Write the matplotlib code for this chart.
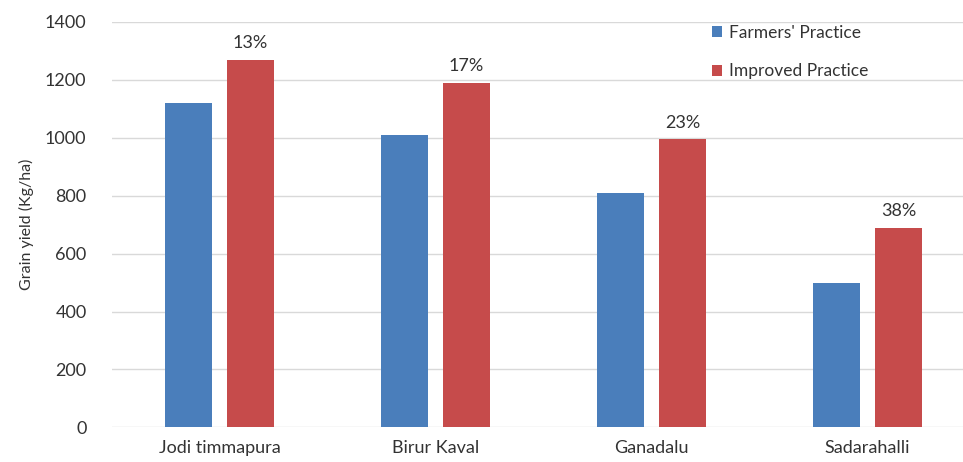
import matplotlib.pyplot as plt
import numpy as np

plt.rcParams['font.family'] = ['Lato', 'DejaVu Sans']

villages = ["Jodi timmapura", "Birur Kaval", "Ganadalu", "Sadarahalli"]
farmers = [1120, 1010, 810, 500]
improved = [1270, 1190, 995, 690]
increase = ["13%", "17%", "23%", "38%"]

fig = plt.figure(figsize=(9.63, 4.62), dpi=100)
ax = fig.add_axes([111.5 / 963, 1 - 427.3 / 462, 1 - 111.5 / 963, 405.3 / 462])

x = np.arange(len(villages))
w = 47 / 216
gap = 15 / 216
b1 = ax.bar(x - (w + gap) / 2, farmers, w, color="#4a7ebb", label="Farmers' Practice", zorder=3)
b2 = ax.bar(x + (w + gap) / 2, improved, w, color="#c64b4b", label="Improved Practice", zorder=3)

# percentage gain above the improved-practice bars
for rect, txt in zip(b2, increase):
    ax.text(rect.get_x() + rect.get_width() / 2, rect.get_height() + 30, txt,
            ha="center", va="bottom", fontsize=13, color="#333333")

ax.set_ylim(0, 1400)
ax.set_yticks(range(0, 1401, 200))
ax.set_xlim(-0.5, -0.5 + (963 - 111.5) / 216)
ax.set_xticks(x)
ax.set_xticklabels(villages)
ax.tick_params(length=0, labelsize=13, colors="#333333")
ax.tick_params(axis="x", pad=9)
ax.tick_params(axis="y", pad=18)
ax.yaxis.grid(True, color="#d9d9d9", linewidth=1, zorder=0)
for s in ax.spines.values():
    s.set_visible(False)
ax.set_ylabel("Grain yield (Kg/ha)", fontsize=11.5, color="#333333", labelpad=8)

ax.legend(loc="upper left", bbox_to_anchor=(0.705, 0.993), frameon=False, fontsize=12.5,
          borderaxespad=0, borderpad=0,
          handlelength=0.6, handleheight=0.6, handletextpad=0.4, labelspacing=1.3,
          labelcolor="#333333")

fig.savefig("out.png")
